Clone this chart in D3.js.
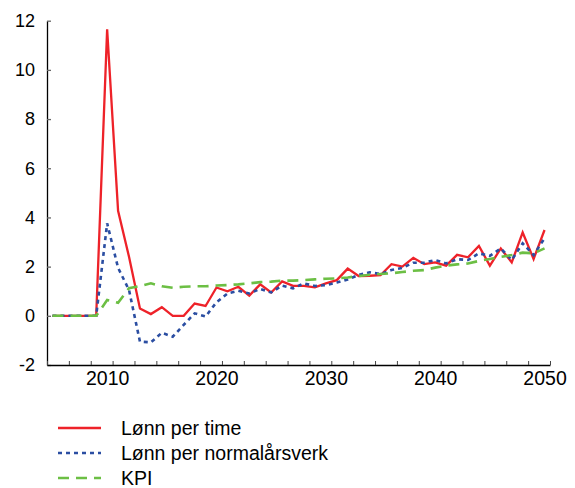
<!DOCTYPE html>
<html>
<head>
<meta charset="utf-8">
<script src="https://cdn.jsdelivr.net/npm/d3@7/dist/d3.min.js"></script>
<style>
  body { margin: 0; background: #fff; }
  svg { display: block; font-family: "Liberation Sans", Arial, sans-serif; }
</style>
</head>
<body>
<svg id="chart" width="575" height="488"></svg>
<script>
const years = d3.range(2005, 2051);
const lonnPerTime = [0,0,0,0,0, 11.65,4.27,2.4,0.3,0.07, 0.35,0.0,0.0,0.5,0.4, 1.15,1.0,1.18,0.82,1.28, 0.95,1.4,1.22,1.22,1.16, 1.32,1.45,1.92,1.62,1.63, 1.65,2.1,2.0,2.36,2.1, 2.17,2.04,2.48,2.38,2.84, 2.04,2.74,2.17,3.39,2.31, 3.49];
const lonnPerNormalarsverk = [0,0,0,0,0, 3.76,1.95,1.05,-1.05,-1.08, -0.69,-0.85,-0.37,0.1,-0.03, 0.55,0.91,1.02,0.91,1.09, 0.95,1.23,1.12,1.32,1.21, 1.25,1.35,1.48,1.66,1.77, 1.7,1.86,1.95,2.16,2.16, 2.27,2.13,2.3,2.27,2.54, 2.44,2.74,2.27,2.95,2.47, 3.15];
const kpi = [0,0,0,0,0, 0.64,0.53,1.12,1.21,1.32, 1.2,1.14,1.18,1.2,1.2, 1.23,1.25,1.28,1.32,1.37, 1.39,1.43,1.43,1.45,1.48, 1.51,1.52,1.56,1.62,1.67, 1.7,1.73,1.78,1.83,1.86, 1.96,2.04,2.09,2.13,2.23, 2.31,2.4,2.47,2.57,2.54, 2.74];
const yTicks = [-2, 0, 2, 4, 6, 8, 10, 12];
const xLabels = [2010, 2020, 2030, 2040, 2050];
const seriesNames = ["Lønn per time", "Lønn per normalårsverk", "KPI"];

const series = [
  { name: seriesNames[0], values: lonnPerTime, color: "#ee2229", width: 2.3, dash: null },
  { name: seriesNames[1], values: lonnPerNormalarsverk, color: "#2b4ea2", width: 2.6, dash: "4,4" },
  { name: seriesNames[2], values: kpi, color: "#6cbf44", width: 2.6, dash: "11,7" }
];

const svg = d3.select("#chart");
const mLeft = 47, mRight = 550, mTop = 20.7, mBottom = 365;

const x = d3.scaleLinear().domain([2004.5, 2050.5]).range([mLeft, mRight]);
const y = d3.scaleLinear().domain([-2, 12]).range([mBottom, mTop]);

// Y axis
const yAxis = svg.append("g")
  .attr("transform", `translate(${mLeft},0)`)
  .call(d3.axisLeft(y).tickValues(yTicks).tickSizeInner(-4).tickSizeOuter(0).tickPadding(12).tickFormat(d => String(d)));
yAxis.select(".domain").attr("stroke", "#000").attr("stroke-width", 1.3);
yAxis.selectAll(".tick line").attr("stroke", "#666").attr("stroke-width", 1.3);
yAxis.selectAll("text").attr("font-size", 18).attr("fill", "#000").attr("font-family", "Liberation Sans, Arial, sans-serif");

// X axis: tick marks every two categories
const xTickMarks = d3.range(2004.5, 2051, 2);
const xAxis = svg.append("g")
  .attr("transform", `translate(0,${mBottom})`)
  .call(d3.axisBottom(x).tickValues(xTickMarks).tickSizeInner(-4).tickSizeOuter(0).tickFormat(""));
xAxis.select(".domain").attr("stroke", "#000").attr("stroke-width", 1.3);
xAxis.selectAll(".tick line").attr("stroke", "#444").attr("stroke-width", 1);

const xLab = svg.append("g")
  .attr("transform", `translate(0,${mBottom})`)
  .call(d3.axisBottom(x).tickValues(xLabels).tickSize(0).tickPadding(6).tickFormat(d => String(d)));
xLab.select(".domain").remove();
xLab.selectAll("text").attr("font-size", 19.5).attr("fill", "#000").attr("font-family", "Liberation Sans, Arial, sans-serif");

// Lines
const line = d3.line().x((d, i) => x(years[i])).y(d => y(d));
series.forEach(s => {
  svg.append("path")
    .datum(s.values)
    .attr("d", line)
    .attr("fill", "none")
    .attr("stroke", s.color)
    .attr("stroke-width", s.width)
    .attr("stroke-linejoin", "miter")
    .attr("stroke-dasharray", s.dash);
});

// Legend
const legend = svg.append("g");
series.forEach((s, i) => {
  const cy = 428 + i * 25;
  legend.append("line")
    .attr("x1", 58).attr("x2", 101).attr("y1", cy).attr("y2", cy)
    .attr("stroke", s.color).attr("stroke-width", s.width)
    .attr("stroke-dasharray", s.dash);
  legend.append("text")
    .attr("x", 121).attr("y", cy + 7)
    .attr("font-size", 19.5).attr("fill", "#000")
    .text(s.name);
});
</script>
</body>
</html>
